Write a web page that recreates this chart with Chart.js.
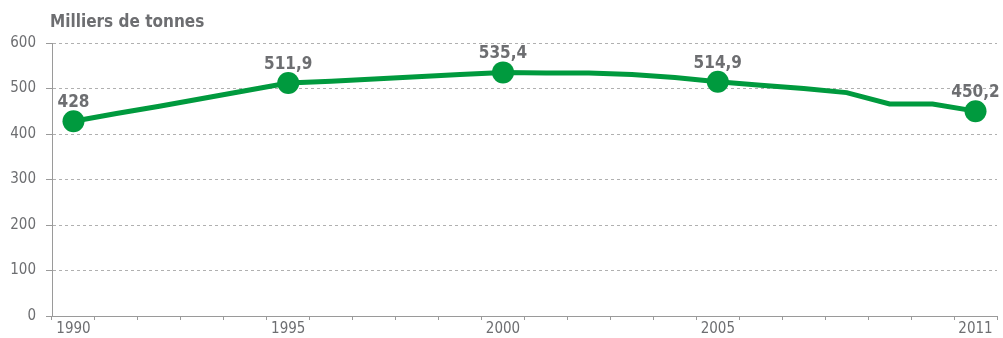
<!DOCTYPE html>
<html>
<head>
<meta charset="utf-8">
<script src="https://cdn.jsdelivr.net/npm/chart.js@4"></script>
<style>
  html, body { margin: 0; padding: 0; background: #fff; }
  #wrap { position: relative; width: 1003px; height: 338px; }
</style>
</head>
<body>
<div id="wrap"><canvas id="chart"></canvas></div>
<script>
// ==================== DATA ====================
const years = ['1990', '1991', '1992', '1993', '1994', '1995', '1996', '1997', '1998', '1999', '2000',
               '2001', '2002', '2003', '2004', '2005', '2006', '2007', '2008', '2009', '2010', '2011'];
const tonnes = [428, 445, 461, 478, 495, 511.9, 516, 521, 526, 531, 535.4,
                534, 534, 531, 524, 514.9, 507, 500, 491, 466, 466, 450.2];
const shownYears = ['1990', '1995', '2000', '2005', '2011'];
const valueLabels = ['428', '511,9', '535,4', '514,9', '450,2'];
const yTicks = [0, 100, 200, 300, 400, 500, 600];

const GREEN = '#009a3e';
const GREY = '#6d6e71';
const FONT = '"DejaVu Sans Condensed", "Liberation Sans Narrow", sans-serif';

// Draw title and the value labels above the highlighted points
const labelPlugin = {
    id: 'labels',
    afterDatasetsDraw(chart) {
        const ctx = chart.ctx;
        const meta = chart.getDatasetMeta(0);
        ctx.save();
        ctx.fillStyle = GREY;
        ctx.font = 'bold 17px ' + FONT;
        ctx.textAlign = 'left';
        ctx.textBaseline = 'alphabetic';
        ctx.fillText('Milliers de tonnes', 50, 27);

        ctx.font = 'bold 17px ' + FONT;
        ctx.textAlign = 'center';
        shownYears.forEach((yr, i) => {
            const pt = meta.data[years.indexOf(yr)];
            let x = pt.x;
            if (i === shownYears.length - 1) x = Math.min(x, 1003 - 24);
            ctx.fillText(valueLabels[i], x, pt.y - 14);
        });
        ctx.restore();
    }
};

const ctx = document.getElementById('chart').getContext('2d');
const chart = new Chart(ctx, {
    type: 'line',
    data: {
        labels: years,
        datasets: [{
            data: tonnes,
            borderColor: GREEN,
            borderWidth: 5,
            tension: 0,
            fill: false,
            pointRadius: years.map(y => shownYears.includes(y) ? 11 : 0),
            pointBackgroundColor: GREEN,
            pointBorderColor: GREEN,
            pointBorderWidth: 0,
            pointHoverRadius: 0
        }]
    },
    options: {
        responsive: true,
        maintainAspectRatio: false,
        animation: false,
        events: [],
        layout: { autoPadding: false, padding: { top: 43, right: 6, left: 0, bottom: 0 } },
        plugins: {
            legend: { display: false },
            tooltip: { enabled: false }
        },
        scales: {
            x: {
                type: 'category',
                offset: true,
                afterFit: s => { s.height = 22; s.paddingLeft = 0; s.paddingRight = 0; },
                grid: {
                    offset: true,
                    drawOnChartArea: false,
                    drawTicks: true,
                    tickLength: 4,
                    color: '#9a9a9a'
                },
                border: { display: true, color: '#9a9a9a', width: 1 },
                ticks: {
                    autoSkip: false,
                    maxRotation: 0,
                    padding: 0,
                    color: GREY,
                    font: { family: FONT, size: 15 },
                    callback: function (val) {
                        const y = years[val];
                        return shownYears.includes(y) ? y : '';
                    }
                }
            },
            y: {
                min: 0,
                max: 600,
                afterFit: s => { s.width = 52; },
                afterBuildTicks: s => { s.ticks = yTicks.map(v => ({ value: v })); },
                grid: {
                    color: '#b0b0b0',
                    lineWidth: 1,
                    drawTicks: true,
                    tickLength: 6,
                    tickBorderDash: [],
                    tickColor: '#9a9a9a'
                },
                border: { display: true, color: '#9a9a9a', width: 1, dash: [3, 3] },
                ticks: {
                    padding: 10,
                    color: GREY,
                    font: { family: FONT, size: 15 }
                }
            }
        }
    },
    plugins: [labelPlugin]
});
</script>
</body>
</html>
